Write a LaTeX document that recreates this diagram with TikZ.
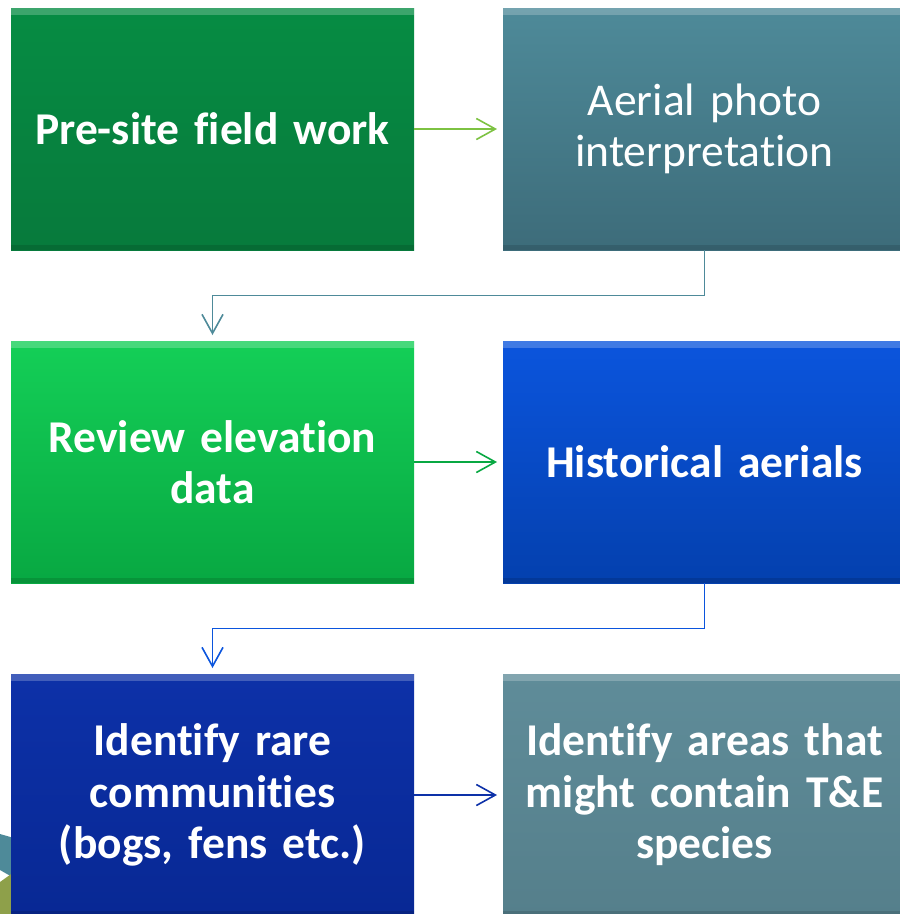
\documentclass[tikz,border=0pt]{standalone}
\usepackage{fontspec}
\setmainfont{Carlito}[Ligatures=NoCommon]
\usetikzlibrary{arrows.meta,positioning}
\definecolor{forest}{HTML}{068C43}
\definecolor{forestdk}{HTML}{077A3C}
\definecolor{steel}{HTML}{4E8A99}
\definecolor{steeldk}{HTML}{3D6C7A}
\definecolor{lime}{HTML}{14CF57}
\definecolor{limedk}{HTML}{08A842}
\definecolor{royal}{HTML}{0B55DD}
\definecolor{royaldk}{HTML}{0440AE}
\definecolor{navy}{HTML}{0D31A8}
\definecolor{navydk}{HTML}{082894}
\definecolor{slate}{HTML}{5F8C99}
\definecolor{slatedk}{HTML}{557F8B}
\definecolor{leaf}{HTML}{7DC242}
\definecolor{olive}{HTML}{8EA04A}
\newcommand\boxfont{\fontsize{45.5}{51.5}\selectfont\spaceskip=.17em\relax}
\tikzset{
  stepbox/.style={
    rectangle,minimum width=403pt,minimum height=242pt,
    inner sep=0pt,outer sep=0pt,text width=390pt,align=center,
    text=white,font=\bfseries\boxfont,
    path picture={
      \fill[white,opacity=.22] (path picture bounding box.north west)
        rectangle ([yshift=-7pt]path picture bounding box.north east);
      \fill[black,opacity=.12] (path picture bounding box.south west)
        rectangle ([yshift=5pt]path picture bounding box.south east);
    }
  },
  forestbox/.style={stepbox,top color=forest,bottom color=forestdk},
  steelbox/.style={stepbox,top color=steel,bottom color=steeldk,
    font=\boxfont},
  limebox/.style={stepbox,top color=lime,bottom color=limedk},
  royalbox/.style={stepbox,top color=royal,bottom color=royaldk},
  navybox/.style={stepbox,top color=navy,bottom color=navydk},
  slatebox/.style={stepbox,top color=slate,bottom color=slatedk},
  arrow/.style={-{Straight Barb[length=19pt,width=21pt,line width=1.6pt]},
    line width=1.6pt,shorten >=6pt}
}
\begin{document}
\begin{tikzpicture}[x=1pt,y=-1pt]
\useasboundingbox (0,0) rectangle (900,914);
% slide background peeking out at the bottom left
\fill[steel] (0,834) -- (14,838) -- (14,878) -- (0,870) -- cycle;
\fill[olive] (0,882) -- (14,872) -- (14,914) -- (0,914) -- cycle;

\node[forestbox] (prework) at (212.5,129) {Pre-site field work};
\node[steelbox,right=89pt of prework] (aerial)
{Aerial photo\\interpretation};

\node[limebox,below=91pt of prework] (elevation)
{Review elevation\\data};
\node[royalbox,right=89pt of elevation] (history)
{Historical aerials};

\node[navybox,below=91pt of elevation] (rare)
{Identify rare\\communities\\(bogs, fens etc.)};
\node[slatebox,right=89pt of rare] (species)
{Identify areas that\\might contain T\&E\\species};

\draw[arrow,leaf] (prework)--(aerial);
\draw[arrow,steel] (aerial.south)--++(0,45.5)-|(elevation.north);
\draw[arrow,limedk] (elevation)--(history);
\draw[arrow,royal] (history.south)--++(0,45.5)-|(rare.north);
\draw[arrow,navy] (rare)--(species);
\end{tikzpicture}
\end{document}
